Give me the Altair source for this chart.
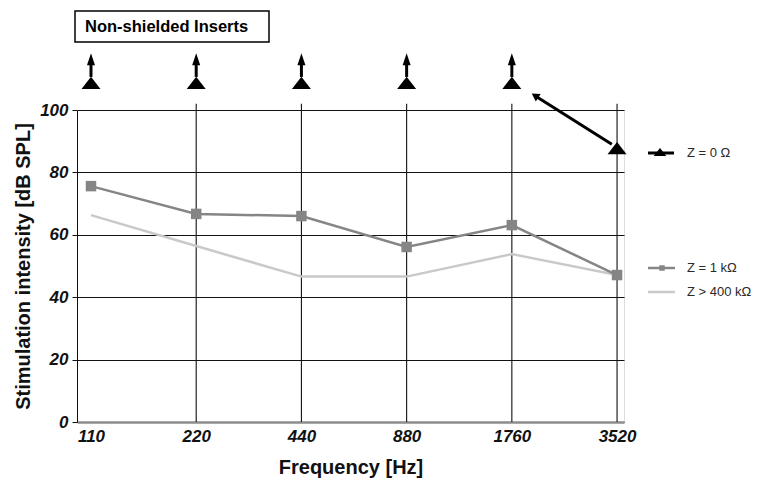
import json
import altair as alt
import pandas as pd

# ---------------- data ----------------
freq_labels = ["110", "220", "440", "880", "1760", "3520"]
idx = [0, 1, 2, 3, 4, 5]
z_1k = [75.6, 66.7, 66.0, 56.1, 63.1, 47.1]
z_400k = [66.3, 56.4, 46.6, 46.6, 53.8, 47.1]
# Z = 0 Ohm: first five are beyond the top of the scale (drawn above the frame)
z_0 = [108.7, 108.7, 108.7, 108.7, 108.7, 87.8]
z_0_offscale = [True, True, True, True, True, False]
legend_labels = ["Z = 0 \u03a9", "Z = 1 k\u03a9", "Z > 400 k\u03a9"]
box_label = "Non-shielded Inserts"
y_ticks = [0, 20, 40, 60, 80, 100]

FONT = "Liberation Sans"
C1K = "#858585"
C400 = "#c9c9c9"
TRI = "M0,-0.65L1,0.65L-1,0.65Z"      # wide, flat triangle
HEAD = "M0,-1L0.67,1L-0.67,1Z"        # narrow arrow head

df1k = pd.DataFrame({"idx": idx, "v": z_1k})
df400 = pd.DataFrame({"idx": idx, "v": z_400k})
df0 = pd.DataFrame({"idx": idx, "v": z_0, "off": z_0_offscale})
dfoff = df0[df0["off"]].copy()
dfoff["v_lo"] = 110.6
dfoff["v_hi"] = 115.5
dfoff["v_head"] = 116.3
dfgrid = pd.DataFrame({"idx": idx[1:], "lo": [0] * 5, "hi": [102] * 5})

xscale = alt.Scale(domain=[-0.133, 5.066], nice=False, zero=False)
yscale = alt.Scale(domain=[0, 100], nice=False)

label_expr = json.dumps(freq_labels) + "[datum.value]"

X = alt.X("idx:Q", scale=xscale, title="Frequency [Hz]",
          axis=alt.Axis(values=idx, labelExpr=label_expr, grid=False,
                        domainColor="#8c8c8c", domainWidth=2.5, ticks=False,
                        labelFont=FONT, labelFontSize=17, labelFontWeight="bold",
                        labelFontStyle="italic", labelColor="#111", labelPadding=6,
                        titleFont=FONT, titleFontSize=20, titleFontWeight="bold",
                        titleColor="#111", titlePadding=13))
Y = alt.Y("v:Q", scale=yscale, title="Stimulation intensity [dB SPL]",
          axis=alt.Axis(values=y_ticks, grid=True, gridColor="#111", gridWidth=1.1,
                        domainColor="#111", tickColor="#111", tickSize=5,
                        labelFont=FONT, labelFontSize=17, labelFontWeight="bold",
                        labelFontStyle="italic", labelColor="#111", labelPadding=4,
                        titleFont=FONT, titleFontSize=20, titleFontWeight="bold",
                        titleColor="#111", titlePadding=6))

vgrid = alt.Chart(dfgrid).mark_rule(color="#111", strokeWidth=1.1).encode(
    x=alt.X("idx:Q", scale=xscale), y=alt.Y("lo:Q", scale=yscale), y2="hi:Q")

line400 = alt.Chart(df400).mark_line(color=C400, strokeWidth=2.5).encode(x=X, y=Y)
line1k = alt.Chart(df1k).mark_line(color=C1K, strokeWidth=2.5).encode(x=X, y=Y)
pts1k = alt.Chart(df1k).mark_point(shape="square", filled=True, opacity=1,
                                    color=C1K, size=110).encode(x=X, y=Y)

tri = alt.Chart(df0).mark_point(shape=TRI, filled=True, opacity=1,
                                color="#000", size=361).encode(x=X, y=Y)
shaft = alt.Chart(dfoff).mark_rule(color="#000", strokeWidth=3).encode(
    x=alt.X("idx:Q", scale=xscale), y=alt.Y("v_lo:Q", scale=yscale), y2="v_hi:Q")
head = alt.Chart(dfoff).mark_point(shape=HEAD, filled=True, opacity=1,
                                   color="#000", size=144).encode(
    x=alt.X("idx:Q", scale=xscale), y=alt.Y("v_head:Q", scale=yscale))

# pointer arrow from the chart corner to the Z = 0 triangle at 3520 Hz
dfarrow = pd.DataFrame({"x1": [4.22], "y1": [104.6], "x2": [4.95], "y2": [89.0]})
arrow = alt.Chart(dfarrow).mark_rule(color="#000", strokeWidth=3).encode(
    x=alt.X("x1:Q", scale=xscale), y=alt.Y("y1:Q", scale=yscale), x2="x2:Q", y2="y2:Q")
arrowhead = alt.Chart(dfarrow).mark_point(shape="triangle-up", filled=True, opacity=1,
                                          color="#000", size=80, angle=303).encode(
    x=alt.X("x1:Q", scale=xscale), y=alt.Y("y1:Q", scale=yscale))

one = pd.DataFrame({"a": [0]})
# legend (drawn manually, right of the plot)
lg0_line = alt.Chart(one).mark_rule(color="#000", strokeWidth=3).encode(
    x=alt.value(571), x2=alt.value(597), y=alt.value(43))
lg0_sym = alt.Chart(one).mark_point(shape=TRI, filled=True, opacity=1,
                                    color="#000", size=160).encode(
    x=alt.value(583), y=alt.value(42))
lg1_line = alt.Chart(one).mark_rule(color=C1K, strokeWidth=2.5).encode(
    x=alt.value(571), x2=alt.value(598), y=alt.value(158))
lg1_sym = alt.Chart(one).mark_point(shape="square", filled=True, opacity=1,
                                    color=C1K, size=30).encode(
    x=alt.value(585), y=alt.value(158))
lg2_line = alt.Chart(one).mark_rule(color=C400, strokeWidth=2.5).encode(
    x=alt.value(571), x2=alt.value(598), y=alt.value(182))

def legend_text(label, ypix):
    return alt.Chart(pd.DataFrame({"t": [label]})).mark_text(
        align="left", baseline="middle", font=FONT, fontSize=13, color="#2a2a2a"
    ).encode(x=alt.value(610), y=alt.value(ypix), text="t:N")

lg_t0 = legend_text(legend_labels[0], 43)
lg_t1 = legend_text(legend_labels[1], 158)
lg_t2 = legend_text(legend_labels[2], 182)

# title box
box = alt.Chart(one).mark_rect(fill="white", stroke="#000", strokeWidth=1.5).encode(
    x=alt.value(-2), x2=alt.value(192), y=alt.value(-99), y2=alt.value(-68))
box_text = alt.Chart(pd.DataFrame({"t": [box_label]})).mark_text(
    align="left", baseline="middle", font=FONT, fontSize=16.5, fontWeight="bold",
    color="#000").encode(x=alt.value(8), y=alt.value(-83), text="t:N")

chart = alt.layer(
    vgrid, line400, line1k, pts1k, tri, shaft, head, arrow, arrowhead,
    lg0_line, lg0_sym, lg1_line, lg1_sym, lg2_line, lg_t0, lg_t1, lg_t2,
    box, box_text,
).properties(
    width=547, height=312,
    autosize=alt.AutoSizeParams(type="none"),
    padding={"left": 69, "top": 102, "right": 130, "bottom": 59},
).configure_view(stroke=None).configure(background="white")

chart.save("out.html", embed_options={"renderer": "svg", "actions": False})
